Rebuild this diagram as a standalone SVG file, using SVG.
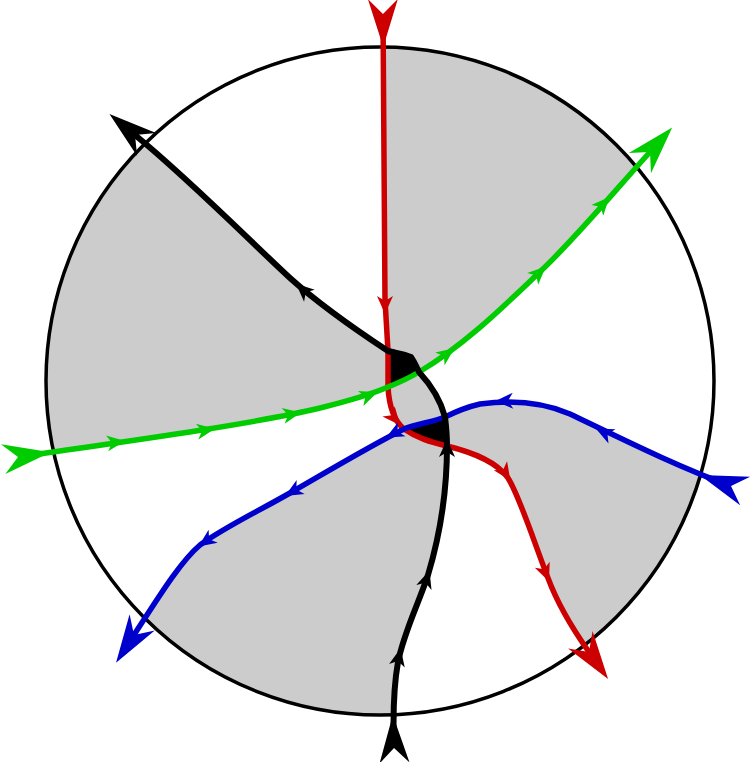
<svg xmlns="http://www.w3.org/2000/svg" xmlns:xlink="http://www.w3.org/1999/xlink" width="751" height="762" viewBox="0 0 751 762">
<style>
.g{fill:#cccccc;stroke:none}
.k{fill:#000000;stroke:none}
.ln{fill:none;stroke-width:5.5;stroke-linecap:butt}
.red{stroke:#cc0000}
.grn{stroke:#00cc00}
.blu{stroke:#0000cc}
.blk{stroke:#000000;stroke-width:6}
</style>
<defs>
<clipPath id="disc"><circle cx="380" cy="381" r="334"/></clipPath>
<path id="sa" d="M-10,-8 L8,0 L-10,8 L-5,0 Z"/>
<marker id="mR" markerUnits="userSpaceOnUse" markerWidth="60" markerHeight="40" refX="15" refY="0" orient="auto" overflow="visible"><path d="M0,-15 L48,0 L0,15 L15,0 Z" fill="#cc0000"/></marker>
<marker id="mG" markerUnits="userSpaceOnUse" markerWidth="60" markerHeight="40" refX="15" refY="0" orient="auto" overflow="visible"><path d="M0,-15 L48,0 L0,15 L15,0 Z" fill="#00cc00"/></marker>
<marker id="mB" markerUnits="userSpaceOnUse" markerWidth="60" markerHeight="40" refX="15" refY="0" orient="auto" overflow="visible"><path d="M0,-15 L48,0 L0,15 L15,0 Z" fill="#0000cc"/></marker>
<marker id="mK" markerUnits="userSpaceOnUse" markerWidth="60" markerHeight="40" refX="15" refY="0" orient="auto" overflow="visible"><path d="M0,-15 L48,0 L0,15 L15,0 Z" fill="#000000"/></marker>
</defs>
<g id="regions" clip-path="url(#disc)">
<path class="g" d="M383,0 L385,300 L388,351 C395,353 403,354 411,357 C414,361 416,366 419,372 C468,343 510,300 545,267 C580,233 620,185 650,152 L720,60 L720,0 Z"/>
<path class="g" d="M135,135 C190,180 250,241 290,278 C320,305 350,326 388,351 L388,387 C372,394 352,400 320,408 C250,425 100,445 18,457 L0,457 L0,100 Z"/>
<path class="g" d="M388,387 C398,383 409,378 419,372 C431,385 440,398 445,417 C433,422 416,424 404,429 C393,420 389,405 388,387 Z"/>
<path class="g" d="M731,486 C680,468 620,438 570,414 C540,401 510,400 480,404 C467,407 455,412 445,417 C446,425 447,435 447,446 C475,453 497,462 508,478 C520,497 535,545 548,578 C558,605 572,628 589,652 L751,652 L751,486 Z"/>
<path class="g" d="M404,429 C370,446 330,470 290,493 C255,513 225,527 200,545 C180,562 158,598 134,635 L134,762 L394,762 L394,748 C393,720 393,690 398,662 C404,632 418,605 428,575 C440,535 447,490 447,446 C430,442 417,438 404,429 Z"/>
<path class="k" d="M388,351 C395,353 403,354 411,357 C414,361 416,366 419,372 C409,378 398,383 388,387 Z"/>
<path class="k" d="M404,429 C417,438 430,442 447,446 C447,435 446,425 445,417 C433,422 416,424 404,429 Z"/>
</g>
<g id="circle">
<circle cx="380" cy="381" r="334" fill="none" stroke="#000000" stroke-width="3.5"/>
</g>
<g id="connectors">
<path id="red" class="ln red" marker-start="url(#mR)" marker-end="url(#mR)" d="M383,14 L385,300 L388,351 L388,387 C389,405 393,420 404,429 C417,438 430,442 447,446 C475,453 497,462 508,478 C520,497 535,545 548,578 C558,605 572,628 589,652"/>
<path id="green" class="ln grn" marker-start="url(#mG)" marker-end="url(#mG)" d="M18,457 C100,445 250,425 320,408 C352,400 372,394 388,387 C398,383 409,378 419,372 C468,343 510,300 545,267 C580,233 620,185 650,152"/>
<path id="blue" class="ln blu" marker-start="url(#mB)" marker-end="url(#mB)" d="M731,486 C680,468 620,438 570,414 C540,401 510,400 480,404 C467,407 455,412 445,417 C433,422 416,424 404,429 C370,446 330,470 290,493 C255,513 225,527 200,545 C180,562 158,598 134,635"/>
<path id="black" class="ln blk" marker-start="url(#mK)" marker-end="url(#mK)" d="M394,748 C393,720 393,690 398,662 C404,632 418,605 428,575 C440,535 447,490 447,446 C447,435 446,425 445,417 C440,398 431,385 419,372 C416,366 414,361 411,357 C403,354 395,353 388,351 C350,326 320,305 290,278 C250,241 190,180 135,135"/>
<path class="k" d="M393,349 L413,357.5 L404,362 Z"/>
<g fill="#cc0000">
<use xlink:href="#sa" transform="translate(385,306) rotate(90)"/>
<use xlink:href="#sa" transform="translate(395,419) rotate(50)"/>
<use xlink:href="#sa" transform="translate(506,474) rotate(56)"/>
<use xlink:href="#sa" transform="translate(546,574) rotate(68)"/>
</g>
<g fill="#00cc00">
<use xlink:href="#sa" transform="translate(117,442) rotate(-8)"/>
<use xlink:href="#sa" transform="translate(207,430) rotate(-9)"/>
<use xlink:href="#sa" transform="translate(293,414) rotate(-11)"/>
<use xlink:href="#sa" transform="translate(370,395) rotate(-20)"/>
<use xlink:href="#sa" transform="translate(448,353) rotate(-36)"/>
<use xlink:href="#sa" transform="translate(540,272) rotate(-43)"/>
<use xlink:href="#sa" transform="translate(604,203) rotate(-48)"/>
</g>
<g fill="#0000cc">
<use xlink:href="#sa" transform="translate(603,432) rotate(206)"/>
<use xlink:href="#sa" transform="translate(503,401) rotate(178)"/>
<use xlink:href="#sa" transform="translate(393,434) rotate(152)"/>
<use xlink:href="#sa" transform="translate(292,492) rotate(150)"/>
<use xlink:href="#sa" transform="translate(205,542) rotate(145)"/>
</g>
<g fill="#000000">
<use xlink:href="#sa" transform="translate(399,656) rotate(-78)"/>
<use xlink:href="#sa" transform="translate(427,578) rotate(-72)"/>
<use xlink:href="#sa" transform="translate(447,447) rotate(-90)"/>
<use xlink:href="#sa" transform="translate(302,289) rotate(222)"/>
</g>
</g>
</svg>
